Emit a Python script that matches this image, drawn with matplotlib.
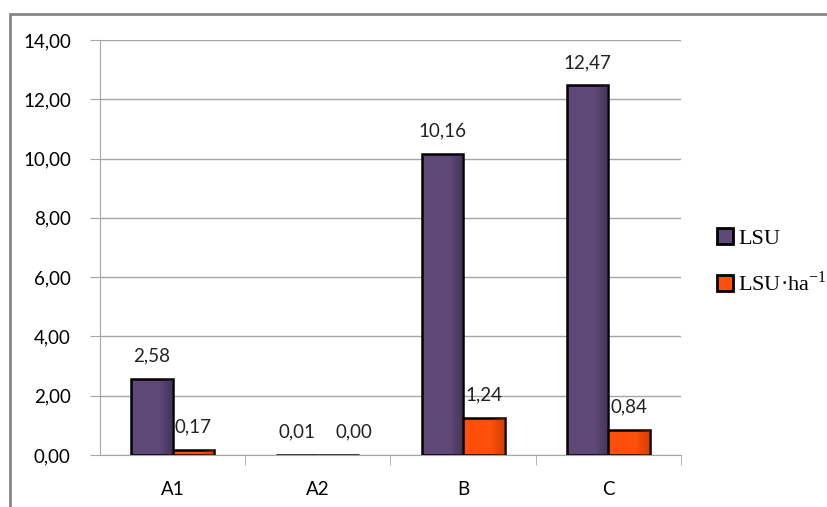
import numpy as np
import matplotlib
matplotlib.use('Agg')
from matplotlib import pyplot as plt
from matplotlib.patches import Rectangle

categories = ['A1', 'A2', 'B', 'C']
lsu = [2.58, 0.01, 10.16, 12.47]
lsu_ha = [0.17, 0.00, 1.24, 0.84]
yticks = [0, 2, 4, 6, 8, 10, 12, 14]

purple = '#5E4878'
orange = '#FF4F0A'
grid_col = '#A6A6A6'

plt.rcParams['font.family'] = ['Lato', 'DejaVu Sans']
plt.rcParams['mathtext.fontset'] = 'custom'
plt.rcParams['mathtext.rm'] = 'Liberation Serif'

fig = plt.figure(figsize=(8.28, 5.07), dpi=100)
ax = fig.add_axes([100/828, 1-455/507, 581/828, 415/507])

x = np.arange(len(categories))
w = 0.285
b1 = ax.bar(x - w/2, lsu, w, color=purple, edgecolor='black', linewidth=1.8, label='LSU', zorder=3)
b2 = ax.bar(x + w/2, lsu_ha, w, color=orange, edgecolor='black', linewidth=1.8,
            label=r'LSU·ha$^{\mathrm{-1}}$', zorder=3)

# darker gradient on the right side of each bar (fake shading)
for bars, dark in ((b1, '#2E2240'), (b2, '#A83000')):
    for r in bars:
        if r.get_height() > 0.05:
            for k in range(6):
                ax.add_patch(Rectangle((r.get_x() + r.get_width()*(0.7 + 0.05*k), 0),
                                       r.get_width()*0.05, r.get_height(), color=dark,
                                       alpha=0.08*(k+1), lw=0, zorder=3.5))

# label x shifts (pt) - excel nudged the 0,00 label to the right
shift1 = [0, 0, 0, 0]
shift2 = [0, 11, 0, 0]
for vals, xs, sh in ((lsu, x - w/2, shift1), (lsu_ha, x + w/2, shift2)):
    for xi, v, s in zip(xs, vals, sh):
        ax.annotate(('%.2f' % v).replace('.', ','), (xi, v), xytext=(s, 16.5),
                    textcoords='offset points', ha='center', va='center', fontsize=13.5,
                    color='#222222', zorder=5, annotation_clip=False)

ax.set_ylim(0, 14)
ax.set_xlim(-0.5, 3.5)
ax.set_yticks(yticks)
ax.set_yticklabels([('%.2f' % t).replace('.', ',') for t in yticks], fontsize=13.5)
ax.yaxis.grid(True, color=grid_col, linewidth=1, zorder=0)
ax.tick_params(axis='y', length=7, color=grid_col, pad=14)

ax.set_xticks(x)
ax.set_xticklabels(categories, fontsize=13.5)
ax.tick_params(axis='x', length=0, pad=19)
ax.set_xticks(np.arange(0.5, 4, 1), minor=True)
ax.tick_params(axis='x', which='minor', length=7, color=grid_col)

for s in ('top', 'right'):
    ax.spines[s].set_visible(False)
ax.spines['left'].set_color(grid_col)
ax.spines['bottom'].set_color(grid_col)

leg = fig.legend(loc='center left', bbox_to_anchor=(717/828, 1-262/507), frameon=False,
                 prop={'family': 'Liberation Serif', 'size': 16}, handlelength=0.7,
                 handleheight=0.7, handletextpad=0.25, labelspacing=1.0,
                 borderpad=0, borderaxespad=0)
for h in leg.legend_handles:
    h.set_linewidth(2)

fig.patches.append(Rectangle((10/828, -0.01), 1.0, 1-14/507 + 0.01, transform=fig.transFigure,
                             fill=False, edgecolor='#868686', linewidth=2))

fig.savefig('out.png', dpi=100)
